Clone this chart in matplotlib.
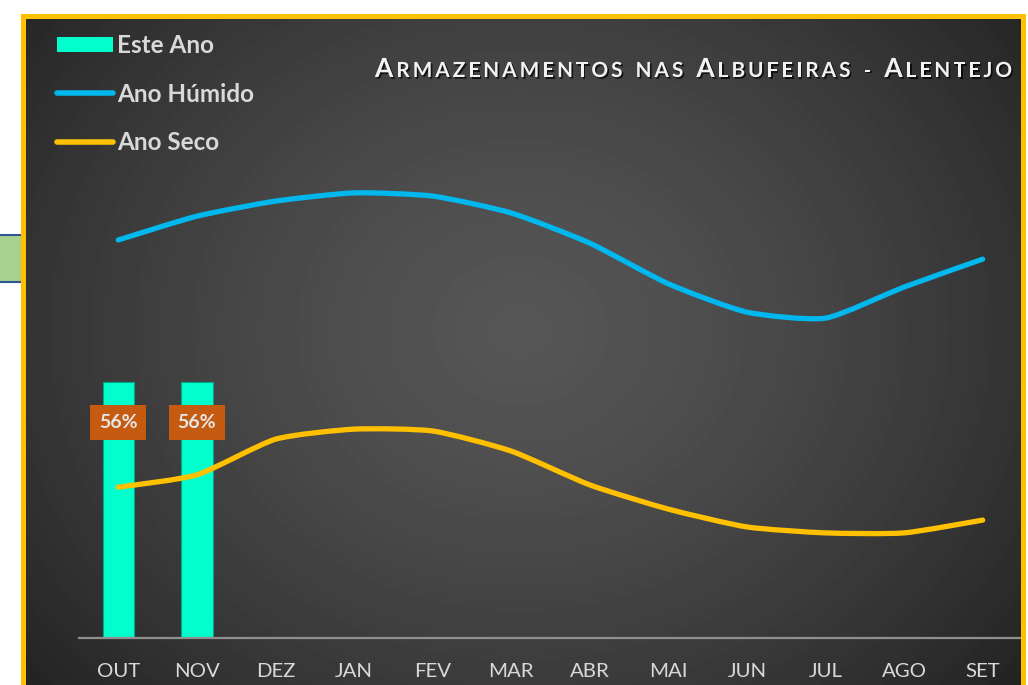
import numpy as np
import matplotlib
matplotlib.use("Agg")
import matplotlib.pyplot as plt
import matplotlib.patches as mpatches
import matplotlib.patheffects as pe
from matplotlib.lines import Line2D
from matplotlib.path import Path

# data (storage in % of capacity)
MONTHS = ["OUT", "NOV", "DEZ", "JAN", "FEV", "MAR",
          "ABR", "MAI", "JUN", "JUL", "AGO", "SET"]
ESTE_ANO = [56, 56]
ESTE_ANO_LABELS = ["56%", "56%"]
ANO_HUMIDO = [87.1, 92.3, 95.6, 97.4, 96.7, 93.0, 86.4, 77.5, 71.3, 70.0, 76.8, 82.9]
ANO_SECO = [33.0, 35.7, 43.5, 45.7, 45.3, 40.9, 33.5, 28.2, 24.3, 23.0, 23.0, 25.8]

TITLE = "Armazenamentos nas Albufeiras - Alentejo"
FONT = "Lato"
TXT = "#d9d9d9"
C_BAR = "#00FFCC"
C_WET = "#00B8EE"
C_DRY = "#FFC000"

W, H = 1028, 685
fig = plt.figure(figsize=(W / 100, H / 100), dpi=100)
fig.patch.set_facecolor("white")


def px(x, y, w, h):
    # pixel box (top-left origin) -> figure fraction
    return [x / W, 1 - (y + h) / H, w / W, h / H]


# radial gradient background
bg = fig.add_axes(px(22, 15, 1001, 672))
yy, xx = np.mgrid[0:672, 0:1001]
r = np.sqrt(((xx - 498) / 1.17) ** 2 + (yy - 315) ** 2) / 500.0
shade = np.clip(0.335 - 0.17 * r ** 1.45, 0.14, 1)
bg.imshow(shade, cmap="gray", vmin=0, vmax=1, aspect="auto")
bg.axis("off")

# bit of a neighbouring shape at the left edge
fig.add_artist(mpatches.Rectangle(
    (-6 / W, 1 - 282 / H), 28 / W, 47 / H, transform=fig.transFigure,
    facecolor="#A9D18E", edgecolor="#2F5597", lw=1.5, zorder=1))

# yellow frame
fig.add_artist(mpatches.Rectangle(
    (22.5 / W, -0.05), 1000 / W, 1 - 15.5 / H + 0.05, transform=fig.transFigure,
    fill=False, edgecolor="#FFC000", lw=3.6, zorder=2))

ax = fig.add_axes(px(79, 181, 943, 457))
ax.set_facecolor("none")
ax.set_xlim(-0.5, len(MONTHS) - 0.5)
ax.set_ylim(0, 100)
for s in ("top", "left", "right"):
    ax.spines[s].set_visible(False)
ax.spines["bottom"].set_color("#8f8f8f")
ax.spines["bottom"].set_linewidth(1.6)
ax.set_yticks([])
ax.set_xticks(range(len(MONTHS)))
ax.set_xticklabels(MONTHS, fontsize=14.7, family=FONT, color=TXT)
ax.tick_params(axis="x", length=0, pad=18)

x_bar = np.arange(len(ESTE_ANO))
ax.bar(x_bar, ESTE_ANO, width=0.4, color=C_BAR, edgecolor="#00A888",
       lw=0.8, zorder=2)


def smooth_path(ys, k=0.1):
    # Excel-like smoothed line: cubic Bezier through each point
    pts = np.column_stack([np.arange(len(ys)), ys]).astype(float)
    ext = np.vstack([pts[0], pts, pts[-1]])
    verts = [pts[0]]
    codes = [Path.MOVETO]
    for i in range(len(pts) - 1):
        p0, p1, p2, p3 = ext[i], ext[i + 1], ext[i + 2], ext[i + 3]
        verts += [p1 + (p2 - p0) * k, p2 - (p3 - p1) * k, p2]
        codes += [Path.CURVE4] * 3
    return Path(verts, codes)


for ys, col in ((ANO_HUMIDO, C_WET), (ANO_SECO, C_DRY)):
    ax.add_patch(mpatches.PathPatch(smooth_path(ys), fill=False,
                                    edgecolor=col, lw=3.8,
                                    capstyle="round", zorder=3))

for xi, v, lab in zip(x_bar, ESTE_ANO, ESTE_ANO_LABELS):
    ax.annotate(lab, (xi, v), xytext=(0, -29), textcoords="offset points",
                ha="center", va="center", fontsize=14, family=FONT,
                fontweight="bold", color="#e6e6e6", zorder=5,
                bbox=dict(boxstyle="square,pad=0.45", fc="#C55A11", ec="none"))

handles = [
    mpatches.Patch(facecolor=C_BAR, edgecolor="none"),
    Line2D([], [], color=C_WET, lw=4, solid_capstyle="round"),
    Line2D([], [], color=C_DRY, lw=4, solid_capstyle="round"),
]
fig.legend(handles, ["Este Ano", "Ano Húmido", "Ano Seco"],
           loc="upper left", bbox_to_anchor=(57 / W, 1 - 34 / H),
           frameon=False, labelcolor=TXT,
           prop={"family": FONT, "weight": "bold", "size": 17.5},
           handlelength=2.3, handleheight=0.6, handletextpad=0.17,
           labelspacing=1.05, borderpad=0, borderaxespad=0)

# small-caps title, laid out letter by letter
renderer = fig.canvas.get_renderer()
shadow = [pe.SimplePatchShadow(offset=(1.2, -1.2), shadow_rgbFace="black",
                               alpha=0.7), pe.Normal()]
x0, x1, base = 375, 1012, 77
chars = []
for ch in TITLE:
    if ch == " ":
        chars.append((None, 7))
        continue
    size = 19 if ch.isupper() else 15
    t = fig.text(0, 1 - base / H, ch.upper(), fontsize=size, family=FONT,
                 fontweight="bold", color="#f2f2f2", va="baseline",
                 ha="left", path_effects=shadow)
    chars.append((t, t.get_window_extent(renderer).width))
total = sum(w for _, w in chars)
gap = (x1 - x0 - total) / (len(chars) - 1)
x = x0
for t, w in chars:
    if t is not None:
        t.set_x(x / W)
    x += w + gap

fig.savefig("out.png", dpi=100, facecolor=fig.get_facecolor())
